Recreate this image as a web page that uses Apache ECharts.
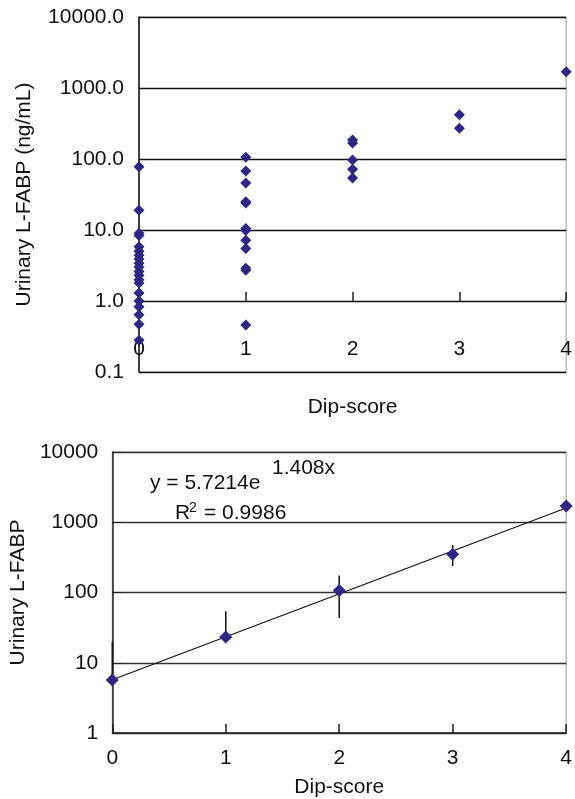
<!DOCTYPE html>
<html><head><meta charset="utf-8">
<script src="https://cdn.jsdelivr.net/npm/echarts@6/dist/echarts.min.js"></script>
<style>html,body{margin:0;padding:0;background:#fff}#c{width:575px;height:799px}</style>
</head><body><div id="c"></div>
<script>
// Top chart: individual values per dip-score
const fabpScore0 = [78, 19, 9.0, 8.4, 5.8, 5.0, 4.4, 3.9, 3.4, 3.0, 2.6, 2.3, 2.0, 1.8, 1.3, 1.0, 0.83, 0.64, 0.47, 0.28];
const fabpScore1 = [106, 68, 46, 25, 24, 10.5, 9.8, 7.2, 5.5, 2.9, 2.7, 0.46];
const fabpScore2 = [185, 168, 97, 72, 54];
const fabpScore3 = [420, 270];
const fabpScore4 = [1700];
const topYTicks = [0.1, 1, 10, 100, 1000, 10000];
const xTicks = [0, 1, 2, 3, 4];

// Bottom chart: means with error bars and exponential trend
const meanScores = [0, 1, 2, 3, 4];
const meanFabp = [5.7, 23.3, 107, 349, 1710];
const errScores = [0, 1, 2, 3];
const errLow = [5.7, 21, 43.5, 238];
const errHigh = [20, 54, 175, 474];
const trendX = [0, 4];
const trendY = [5.72, 1598];
const eqText = 'y = 5.7214e';
const eqExp = '1.408x';
const r2Text = '0.9986';

const FONT = '"Liberation Sans", Arial, sans-serif';
const MARK = '#2f2683';
const scoreLists = [fabpScore0, fabpScore1, fabpScore2, fabpScore3, fabpScore4];
const topData = [];
scoreLists.forEach((arr, i) => arr.forEach(v => topData.push([xTicks[i], v])));

const chart = echarts.init(document.getElementById('c'));
const txt = {color: '#111', fontFamily: FONT, fontSize: 21};
chart.setOption({
  animation: false,
  grid: [
    {left: 139, width: 430, top: 17, height: 355, show: true, borderColor: '#999', borderWidth: 1, backgroundColor: 'transparent'},
    {left: 111, width: 458, top: 452, height: 281, show: true, borderColor: '#999', borderWidth: 1, backgroundColor: 'transparent'}
  ],
  xAxis: [
    {gridIndex: 0, type: 'value', min: 0, max: 4, interval: 1, position: 'bottom', offset: -33,
     axisLine: {show: false}, axisTick: {show: false}, splitLine: {show: false},
     axisLabel: Object.assign({margin: 0}, txt),
     name: 'Dip-score', nameLocation: 'middle', nameGap: 58, nameTextStyle: txt},
    {gridIndex: 0, type: 'value', min: 0, max: 4, interval: 1, position: 'bottom', offset: -71,
     axisLine: {show: false}, axisTick: {show: true, inside: true, length: 9, lineStyle: {color: '#222', width: 1.5}},
     axisLabel: {show: false}, splitLine: {show: false}},
    {gridIndex: 1, type: 'value', min: 0, max: 4, interval: 1, position: 'bottom',
     axisLine: {show: true, lineStyle: {color: '#222', width: 1.5}},
     axisTick: {show: true, inside: true, length: 9, lineStyle: {color: '#222', width: 1.5}},
     splitLine: {show: false},
     axisLabel: Object.assign({margin: 15}, txt),
     name: 'Dip-score', nameLocation: 'middle', nameGap: 44, nameTextStyle: txt}
  ],
  yAxis: [
    {gridIndex: 0, type: 'log', logBase: 10, min: topYTicks[0], max: topYTicks[topYTicks.length - 1],
     axisLine: {show: true, lineStyle: {color: '#111', width: 1.5}},
     axisTick: {show: true, inside: true, length: 10, lineStyle: {color: '#111'}},
     splitLine: {show: true, lineStyle: {color: '#111', width: 1.3}},
     axisLabel: Object.assign({margin: 15, formatter: v => Number(v).toFixed(1)}, txt),
     name: 'Urinary L-FABP (ng/mL)', nameLocation: 'middle', nameGap: 104, nameTextStyle: txt},
    {gridIndex: 1, type: 'log', logBase: 10, min: 1, max: 10000,
     axisLine: {show: true, lineStyle: {color: '#222', width: 1.5}},
     axisTick: {show: true, inside: true, length: 10, lineStyle: {color: '#222'}},
     splitLine: {show: true, lineStyle: {color: '#333', width: 1.3}},
     axisLabel: Object.assign({margin: 14, formatter: v => String(Math.round(v))}, txt),
     name: 'Urinary L-FABP', nameLocation: 'middle', nameGap: 78, nameTextStyle: txt}
  ],
  series: [
    {type: 'scatter', xAxisIndex: 0, yAxisIndex: 0, data: topData, symbol: 'diamond', symbolSize: 11,
     itemStyle: {color: MARK, opacity: 1}, clip: false, z: 5},
    {type: 'line', xAxisIndex: 2, yAxisIndex: 1, data: trendX.map((x, i) => [x, trendY[i]]),
     showSymbol: false, symbol: 'none', lineStyle: {color: '#111', width: 1.2}, z: 3},
    {type: 'custom', xAxisIndex: 2, yAxisIndex: 1, data: errScores.map((x, i) => [x, errLow[i], errHigh[i]]),
     renderItem: (params, api) => {
       const a = api.coord([api.value(0), api.value(1)]);
       const b = api.coord([api.value(0), api.value(2)]);
       return {type: 'line', shape: {x1: a[0], y1: a[1], x2: b[0], y2: b[1]}, style: {stroke: '#111', lineWidth: 1.5}};
     }, z: 4},
    {type: 'scatter', xAxisIndex: 2, yAxisIndex: 1, data: meanScores.map((x, i) => [x, meanFabp[i]]),
     symbol: 'diamond', symbolSize: 13, itemStyle: {color: MARK, opacity: 1}, clip: false, z: 6}
  ],
  graphic: [
    {type: 'text', left: 150, top: 473, style: {text: eqText, font: '21px ' + FONT, fill: '#111'}},
    {type: 'text', left: 272, top: 458, style: {text: eqExp, font: '21px ' + FONT, fill: '#111'}},
    {type: 'text', left: 175, top: 503, style: {text: 'R', font: '21px ' + FONT, fill: '#111'}},
    {type: 'text', left: 189, top: 501, style: {text: '2', font: '14px ' + FONT, fill: '#111'}},
    {type: 'text', left: 204, top: 503, style: {text: '= ' + r2Text, font: '21px ' + FONT, fill: '#111'}}
  ]
});
</script></body></html>
